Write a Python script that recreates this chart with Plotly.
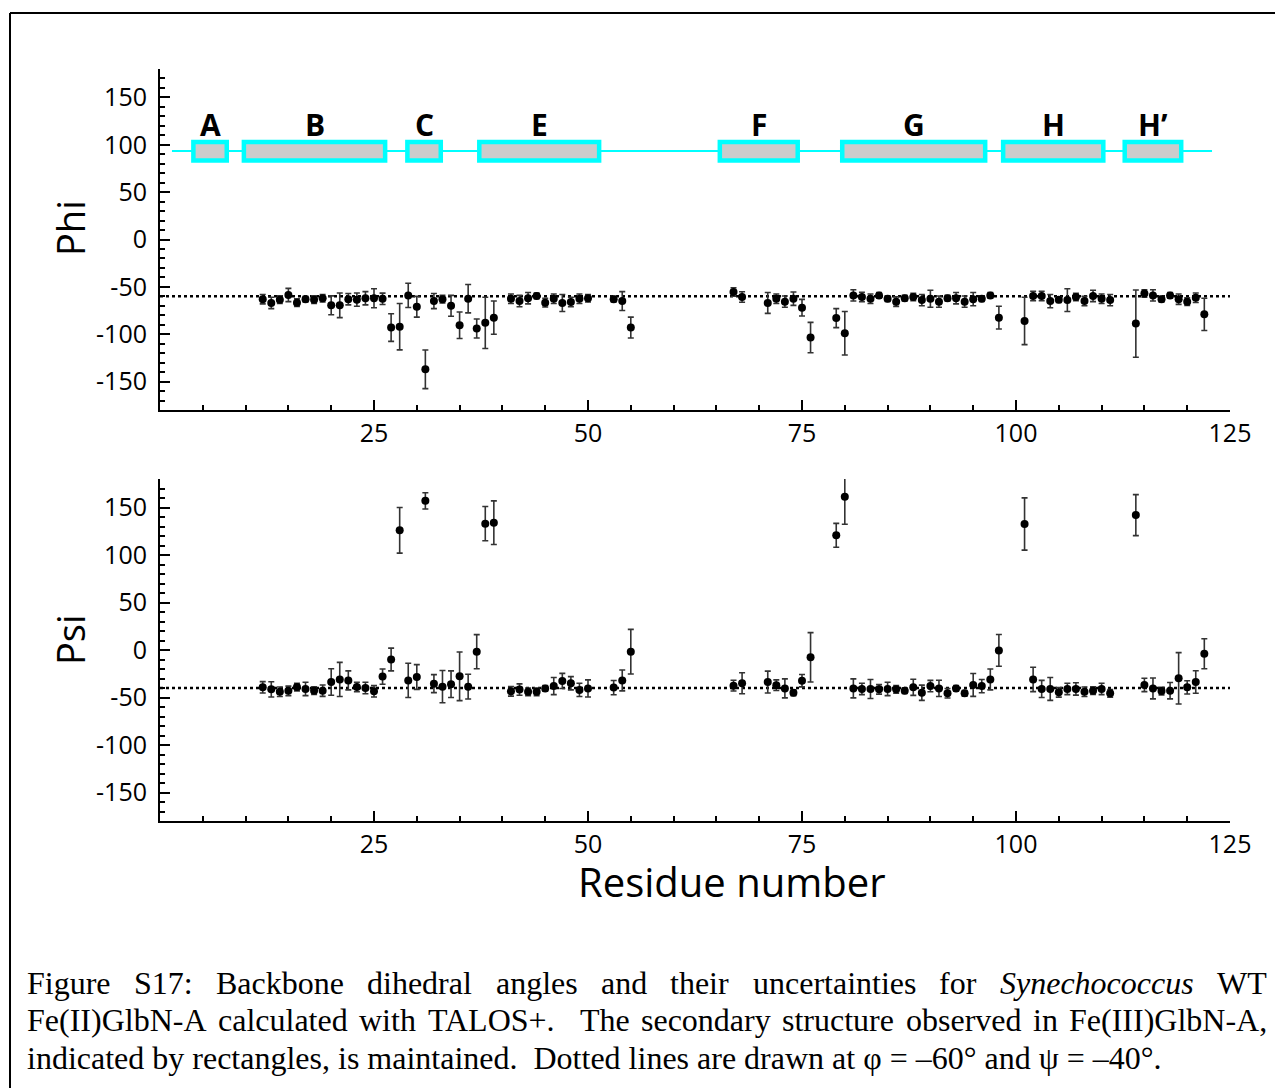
import plotly.graph_objects as go

W, H = 1275, 1088

# ---------------- data ----------------
residues = [12, 13, 14, 15, 16, 17, 18, 19, 20, 21, 22, 23, 24, 25, 26, 27, 28, 29, 30,
            31, 32, 33, 34, 35, 36, 37, 38, 39,
            41, 42, 43, 44, 45, 46, 47, 48, 49, 50,
            53, 54, 55,
            67, 68,
            71, 72, 73, 74, 75, 76,
            79, 80, 81, 82, 83, 84, 85, 86, 87, 88, 89, 90, 91, 92, 93, 94, 95, 96, 97, 98,
            101, 102, 103, 104, 105, 106, 107, 108, 109, 110, 111,
            114, 115, 116, 117, 118, 119, 120, 121, 122]

phi = [-63, -67, -63.5, -58.6, -66.7, -63, -63.5, -62, -69.5, -69.5, -63, -63.5, -62, -62, -62.6,
       -93, -92, -59, -71, -137, -65, -63, -70, -90.5, -62.5, -94, -88, -82.5,
       -62.5, -65, -62, -59.6, -66.7, -62.5, -67, -66, -62.5, -62,
       -63, -65, -93,
       -55.4, -60.7,
       -67, -62.5, -65.6, -62.5, -72, -103.5,
       -83, -99, -59, -60.7, -62.5, -59, -62.5, -65.6, -62, -60.7, -64, -62.5, -65.6, -62, -62,
       -65.6, -63, -62.5, -59, -82.5,
       -86, -59.6, -59.6, -65, -63.5, -64, -60.7, -65, -59.6, -62.5, -64,
       -88.8, -57, -59, -63, -59, -63, -65.6, -61.5, -79]

phi_err = [5, 6, 4, 7, 4, 3, 4, 4, 10, 13, 6, 7, 7, 10, 6, 14.6, 24.5, 12.8, 11, 20.4, 8, 4, 11,
           14, 15, 10, 27, 17.5,
           5, 6, 6, 3, 4.5, 5, 9, 5, 5, 4,
           3, 10, 11,
           4.5, 5.5,
           11, 5, 6, 7, 8.8, 16,
           10, 23, 6, 5, 5, 3, 3, 5, 3, 4, 6, 9, 6, 3, 6, 6, 7, 3, 3, 12,
           25, 5, 5, 7, 3, 12, 4, 5, 6, 5, 6,
           35.5, 4, 6, 3, 3, 5.5, 4, 5, 17]

psi = [-39.3, -41.4, -44, -43, -39, -41, -42.8, -42.8, -33.7, -31, -32, -39, -40, -43.5, -28,
       -10, 126, -32, -28.4, 157, -35.4, -38.6, -36, -27.7, -38.6, -1.8, 133, 134,
       -43.5, -41.7, -44, -44, -40.4, -38, -32.6, -35, -42, -40.4,
       -39.6, -32, -1.8,
       -37.5, -35,
       -33.7, -37, -40.4, -45, -32.3, -7.7,
       120.7, 161.4, -40.4, -41, -41, -41.4, -41, -41.4, -42.8, -39.3, -45, -38, -40.4, -45.6,
       -40.4, -45.6, -36.8, -38, -31, -0.4,
       132.6, -31, -41, -41, -44.6, -41, -41, -44, -42.8, -41, -45.6,
       142, -36.8, -40.4, -43.2, -42.8, -29.8, -39.3, -33.7, -3.9]

psi_err = [6, 8, 5, 5, 4, 7, 4, 6, 14, 18, 10, 5, 6, 6, 8, 12, 24, 18, 13, 8.5, 9.5, 17, 14,
           25.6, 13, 18, 18, 23,
           5, 6, 4, 4, 3, 9, 8, 7, 7, 9,
           7.5, 11, 23.5,
           5.6, 11,
           11.5, 5.6, 10, 3, 6.5, 26,
           12.6, 29, 10, 6, 10, 5, 7, 4, 3, 8.5, 8, 6, 8.5, 5, 3, 3, 12, 7, 11, 16.7,
           27.5, 12.8, 9, 12, 5, 6, 6.5, 5, 4, 6, 4,
           21.6, 7, 11, 4, 8.6, 27, 7, 11.8, 15.8]

phi_ref = -60
psi_ref = -40

helix_labels = ["A", "B", "C", "E", "F", "G", "H", "H\u2019"]
helix_start = [3.9, 9.8, 28.9, 37.3, 65.4, 79.7, 98.5, 112.7]
helix_end = [7.8, 26.3, 32.8, 51.3, 74.5, 96.4, 110.2, 119.3]
ss_line_start, ss_line_end = 1.4, 122.9
ss_level = 93.5

x_ticks = [25, 50, 75, 100, 125]
y_ticks = [-150, -100, -50, 0, 50, 100, 150]
y_ticktext = ["-150", "-100", "-50", "0", "50", "100", "150"]

# caption text (justified lines are laid out word by word)
caption_line1 = ["Figure", "S17:", "Backbone", "dihedral", "angles", "and", "their",
                 "uncertainties", "for", "<i>Synechococcus</i>", "WT"]
caption_line2 = ["Fe(II)GlbN-A", "calculated", "with", "TALOS+.", "The", "secondary",
                 "structure", "observed", "in", "Fe(III)GlbN-A,"]
caption_line3 = ("indicated by rectangles, is maintained.  Dotted lines are drawn at "
                 "\u03c6 = \u201360\u00b0 and \u03c8 = \u201340\u00b0.")

# ---------------- figure ----------------
fig = go.Figure()

for xa, ya, vals, errs in [("x", "y", phi, phi_err), ("x2", "y2", psi, psi_err)]:
    fig.add_trace(go.Scatter(
        x=residues, y=vals, mode="markers", xaxis=xa, yaxis=ya,
        marker=dict(color="black", size=8),
        error_y=dict(type="data", array=errs, visible=True, color="#333333",
                     thickness=1.6, width=3),
        showlegend=False, cliponaxis=False))

x_dom = [160 / W, 1230 / W]
phi_dom = [1 - 410 / H, 1 - 69 / H]
psi_dom = [1 - 821 / H, 1 - 479 / H]

tickfont = dict(family="Open Sans", size=25, color="black")
minor_x = dict(tickvals=[v for v in range(5, 125, 5) if v % 25 != 0], ticklen=5,
               tickwidth=1.5, tickcolor="black", ticks="inside")
minor_y = dict(tickvals=[v for v in range(-180, 181, 10) if v % 50 != 0], ticklen=5,
               tickwidth=1.5, tickcolor="black", ticks="inside")

xcommon = dict(range=[0, 125], tickvals=x_ticks, ticks="inside", ticklen=10, tickwidth=2,
               tickcolor="black", showline=True, linecolor="black", linewidth=2,
               showgrid=False, zeroline=False, tickfont=tickfont, minor=minor_x,
               ticklabelstandoff=0, automargin=False)
ycommon = dict(range=[-180, 180], tickvals=y_ticks, ticktext=y_ticktext, ticks="inside",
               ticklen=10, tickwidth=2,
               tickcolor="black", showline=True, linecolor="black", linewidth=2,
               showgrid=False, zeroline=False, tickfont=tickfont, minor=minor_y,
               ticklabelstandoff=6, automargin=False)

fig.update_layout(
    width=W, height=H, margin=dict(l=0, r=0, t=0, b=0, autoexpand=False),
    paper_bgcolor="white", plot_bgcolor="white",
    xaxis=dict(domain=x_dom, anchor="y", **xcommon),
    yaxis=dict(domain=phi_dom, anchor="x", **ycommon),
    xaxis2=dict(domain=x_dom, anchor="y2", **xcommon),
    yaxis2=dict(domain=psi_dom, anchor="x2", **ycommon),
)

shapes = []
shapes.append(dict(type="line", xref="x", yref="y", x0=0, x1=125, y0=phi_ref, y1=phi_ref,
                   line=dict(color="black", width=2.5, dash="dot"), layer="below"))
shapes.append(dict(type="line", xref="x2", yref="y2", x0=0, x1=125, y0=psi_ref, y1=psi_ref,
                   line=dict(color="black", width=2.5, dash="dot"), layer="below"))
shapes.append(dict(type="line", xref="x", yref="y", x0=ss_line_start, x1=ss_line_end,
                   y0=ss_level, y1=ss_level, line=dict(color="#00ffff", width=2)))
for s, e in zip(helix_start, helix_end):
    shapes.append(dict(type="rect", xref="x", yref="y", x0=s, x1=e, y0=83.5, y1=103,
                       fillcolor="#cccccc", line=dict(color="#00ffff", width=4.5)))
shapes.append(dict(type="line", xref="paper", yref="paper", x0=10 / W, x1=1.02,
                   y0=1 - 13 / H, y1=1 - 13 / H, line=dict(color="black", width=2)))
shapes.append(dict(type="line", xref="paper", yref="paper", x0=10 / W, x1=10 / W,
                   y0=1 - 13 / H, y1=-0.02, line=dict(color="black", width=2)))
fig.update_layout(shapes=shapes)

ann = []
for lab, s, e in zip(helix_labels, helix_start, helix_end):
    ann.append(dict(xref="x", yref="y", x=(s + e) / 2, y=121, text="<b>%s</b>" % lab,
                    showarrow=False, xanchor="center", yanchor="middle",
                    font=dict(family="Open Sans", size=30, color="black")))

ann.append(dict(xref="paper", yref="paper", x=70 / W, y=1 - 228 / H, text="Phi", textangle=-90,
                showarrow=False, xanchor="center", yanchor="middle",
                font=dict(family="Open Sans", size=38, color="black")))
ann.append(dict(xref="paper", yref="paper", x=70 / W, y=1 - 640 / H, text="Psi", textangle=-90,
                showarrow=False, xanchor="center", yanchor="middle",
                font=dict(family="Open Sans", size=38, color="black")))
ann.append(dict(xref="paper", yref="paper", x=732 / W, y=1 - 881 / H, text="Residue number",
                showarrow=False, xanchor="center", yanchor="middle",
                font=dict(family="Open Sans", size=40, color="black")))

cap_font = dict(family="Liberation Serif", size=32, color="black")
line1_x = [25, 132, 214, 365, 494, 599, 668, 751, 937, 998, 1215]
line2_x = [25, 216, 357, 426, 578, 639, 780, 904, 1031, 1067]
for words, xs, py in [(caption_line1, line1_x, 983), (caption_line2, line2_x, 1020)]:
    for wd, px in zip(words, xs):
        ann.append(dict(xref="paper", yref="paper", x=px / W, y=1 - py / H, text=wd,
                        showarrow=False, xanchor="left", yanchor="middle", font=cap_font))
ann.append(dict(xref="paper", yref="paper", x=25 / W, y=1 - 1058 / H, text=caption_line3,
                showarrow=False, xanchor="left", yanchor="middle", font=cap_font))
fig.update_layout(annotations=ann)

fig.write_html("out.html")
